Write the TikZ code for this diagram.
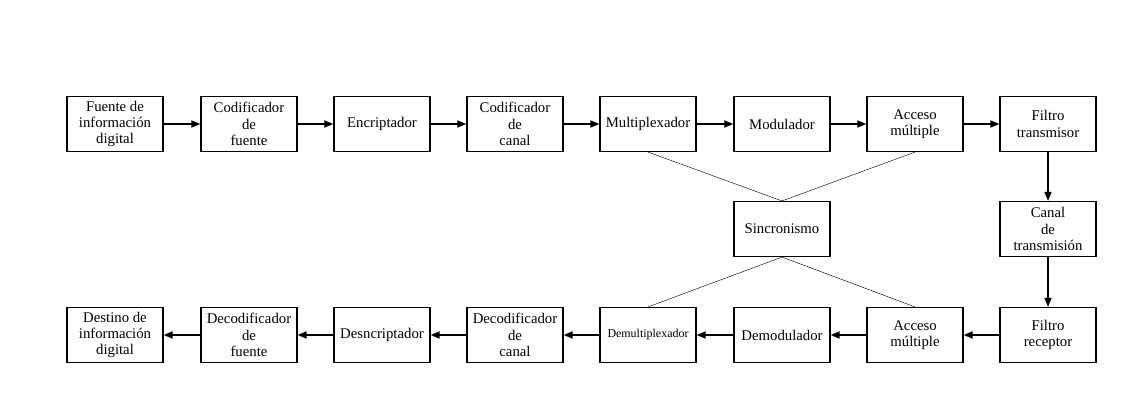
\documentclass[tikz,border=0pt]{standalone}
\usepackage{fontspec}
\setmainfont{Liberation Serif}
\usetikzlibrary{arrows.meta,positioning}

\begin{document}
\begin{tikzpicture}[
  x=0.025cm, y=-0.025cm,
  >={Triangle[length=6.5pt,width=5pt]},
  every node/.style={font=\fontsize{10.5}{11.5}\selectfont},
  box/.style={draw, line width=0.8pt, minimum width=2.4cm, minimum height=1.375cm, align=center, inner sep=1pt},
  flow/.style={->, line width=1.2pt},
  sync/.style={line width=0.3pt},
]
\useasboundingbox (0,0) rectangle (1138,395);

% Transmitter chain
\node[box] (src)    at (115,124)  {Fuente de\\informaci\'on\\digital};
\node[box] (srccod) at (249,124)  {Codificador\\de\\fuente};
\node[box] (encr)   at (382,124)  {Encriptador};
\node[box] (chcod)  at (515,124)  {Codificador\\de\\canal};
\node[box] (mux)    at (648,124)  {Multiplexador};
\node[box] (mod)    at (782,124)  {Modulador};
\node[box] (macc)   at (915,124)  {Acceso\\m\'ultiple};
\node[box] (txf)    at (1048,124) {Filtro\\transmisor};

% Middle row
\node[box] (synch)  at (782,229)  {Sincronismo};
\node[box] (chan)   at (1048,229) {Canal\\de\\transmisi\'on};

% Receiver chain
\node[box] (dst)    at (115,335)  {Destino de\\informaci\'on\\digital};
\node[box] (srcdec) at (249,335)  {Decodificador\\de\\fuente};
\node[box] (decr)   at (382,335)  {Desncriptador};
\node[box] (chdec)  at (515,335)  {Decodificador\\de\\canal};
\node[box, font=\fontsize{8.5}{10}\selectfont] (demux) at (648,335) {Demultiplexador};
\node[box] (demod)  at (782,335)  {Demodulador};
\node[box] (macc2)  at (915,335)  {Acceso\\m\'ultiple};
\node[box] (rxf)    at (1048,335) {Filtro\\receptor};

% Forward path
\draw[flow] (src) -- (srccod);
\draw[flow] (srccod) -- (encr);
\draw[flow] (encr) -- (chcod);
\draw[flow] (chcod) -- (mux);
\draw[flow] (mux) -- (mod);
\draw[flow] (mod) -- (macc);
\draw[flow] (macc) -- (txf);
\draw[flow] (txf) -- (chan);
\draw[flow] (chan) -- (rxf);

% Return path
\draw[flow] (rxf) -- (macc2);
\draw[flow] (macc2) -- (demod);
\draw[flow] (demod) -- (demux);
\draw[flow] (demux) -- (chdec);
\draw[flow] (chdec) -- (decr);
\draw[flow] (decr) -- (srcdec);
\draw[flow] (srcdec) -- (dst);

% Synchronism links
\draw[sync] (mux.south) -- (synch.north);
\draw[sync] (macc.south) -- (synch.north);
\draw[sync] (synch.south) -- (demux.north);
\draw[sync] (synch.south) -- (macc2.north);

\end{tikzpicture}
\end{document}
